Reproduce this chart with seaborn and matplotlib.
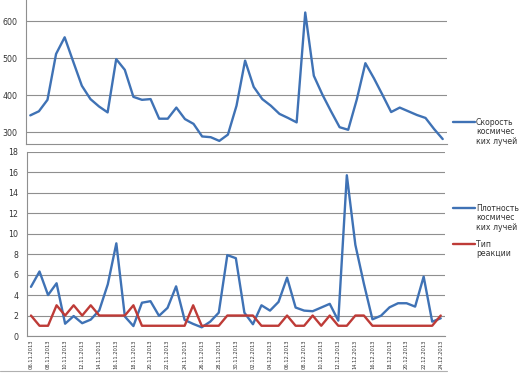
import pandas as pd
import matplotlib.pyplot as plt
import seaborn as sns
from matplotlib.lines import Line2D

# Data (daily, 06.11.2013 .. 24.12.2013)
dates = [
    "06.11.2013", "07.11.2013", "08.11.2013", "09.11.2013", "10.11.2013", "11.11.2013", "12.11.2013",
    "13.11.2013", "14.11.2013", "15.11.2013", "16.11.2013", "17.11.2013", "18.11.2013", "19.11.2013",
    "20.11.2013", "21.11.2013", "22.11.2013", "23.11.2013", "24.11.2013", "25.11.2013", "26.11.2013",
    "27.11.2013", "28.11.2013", "29.11.2013", "30.11.2013", "01.12.2013", "02.12.2013", "03.12.2013",
    "04.12.2013", "05.12.2013", "06.12.2013", "07.12.2013", "08.12.2013", "09.12.2013", "10.12.2013",
    "11.12.2013", "12.12.2013", "13.12.2013", "14.12.2013", "15.12.2013", "16.12.2013", "17.12.2013",
    "18.12.2013", "19.12.2013", "20.12.2013", "21.12.2013", "22.12.2013", "23.12.2013", "24.12.2013",
]

speed = [345, 356, 387, 511, 556, 490, 425, 389, 369, 353,
         497, 468, 395, 387, 389, 336, 336, 366, 335, 322,
         288, 286, 276, 293, 371, 493, 422, 389, 371, 349,
         338, 326, 623, 452, 401, 356, 313, 306, 388, 486,
         445, 400, 354, 366, 356, 346, 338, 308, 281]

density = [4.8, 6.3, 4.0, 5.15, 1.2, 1.95, 1.25, 1.6, 2.5, 5.05,
           9.05, 1.9, 0.97, 3.25, 3.4, 1.97, 2.75, 4.85, 1.57, 1.18,
           0.85, 1.4, 2.28, 7.9, 7.6, 2.28, 1.15, 3.0, 2.48, 3.33,
           5.7, 2.78, 2.48, 2.42, 2.78, 3.14, 1.5, 15.7, 8.9, 5.1,
           1.63, 1.98, 2.8, 3.2, 3.2, 2.87, 5.8, 1.4, 1.73]

reaction = [2, 1, 1, 3, 2, 3, 2, 3, 2, 2,
            2, 2, 3, 1, 1, 1, 1, 1, 1, 3,
            1, 1, 1, 2, 2, 2, 2, 1, 1, 1,
            2, 1, 1, 2, 1, 2, 1, 1, 2, 2,
            1, 1, 1, 1, 1, 1, 1, 1, 2]

BLUE = "#3f72b5"
RED = "#be3b37"
GRID = "#8f8f8f"
TXT = "#333333"

df = pd.DataFrame({"idx": range(len(dates)), "date": dates,
                   "speed": speed, "density": density, "reaction": reaction})

sns.set_style("white")
plt.rcParams["font.family"] = ["DejaVu Sans"]

fig = plt.figure(figsize=(5.21, 3.73), dpi=100)
ax1 = fig.add_axes([26 / 521, 1 - 144 / 373, 421 / 521, 144 / 373])
ax2 = fig.add_axes([26.7 / 521, 1 - 336 / 373, 418.3 / 521, 184.3 / 373])

sns.lineplot(data=df, x="idx", y="speed", ax=ax1, color=BLUE, linewidth=1.7)
sns.lineplot(data=df, x="idx", y="density", ax=ax2, color=BLUE, linewidth=1.7)
sns.lineplot(data=df, x="idx", y="reaction", ax=ax2, color=RED, linewidth=1.7)

for ax in (ax1, ax2):
    ax.set_xlim(-0.5, len(dates) - 0.5)
    ax.set_xlabel("")
    ax.set_ylabel("")
    ax.grid(axis="y", color=GRID, linewidth=0.8)
    ax.set_axisbelow(True)
    for s in ("top", "right"):
        ax.spines[s].set_visible(False)
    for s in ("left", "bottom"):
        ax.spines[s].set_color(GRID)
        ax.spines[s].set_linewidth(0.8)
    ax.tick_params(axis="y", length=4, width=0.8, color=GRID, labelsize=5.7,
                   labelcolor=TXT, pad=2)

# top panel
ax1.set_ylim(267.6, 656.8)
ax1.set_yticks([300, 400, 500, 600])
ax1.set_xticks([])

# bottom panel
ax2.set_ylim(0, 18)
ax2.set_yticks(range(0, 19, 2))
ax2.set_xticks(df["idx"][::2])
ax2.set_xticklabels(df["date"][::2], rotation=90, fontsize=3.7, color=TXT)
ax2.set_xticks([i - 0.5 for i in range(0, len(dates) + 1, 2)], minor=True)
ax2.tick_params(axis="x", which="major", length=0, pad=2.5)
ax2.tick_params(axis="x", which="minor", length=3, width=0.8, color=GRID)

# legends, drawn to the right like the original
def legend_entry(y_px, color, text):
    y = 1 - y_px / 373
    fig.add_artist(Line2D([453 / 521, 475 / 521], [y, y], color=color, linewidth=1.7))
    fig.text(476 / 521, y + 4.0 / 373, text, fontsize=5.6, color=TXT, va="top",
             ha="left", linespacing=1.05)

legend_entry(122, BLUE, "Скорость\nкосмичес\nких лучей")
legend_entry(208, BLUE, "Плотность\nкосмичес\nких лучей")
legend_entry(244, RED, "Тип\nреакции")

# faint chart border line under the lower chart
fig.add_artist(Line2D([0, 447 / 521], [1 - 371 / 373] * 2, color="#b0b0b0", linewidth=0.8))

fig.savefig("out.png", dpi=100)
